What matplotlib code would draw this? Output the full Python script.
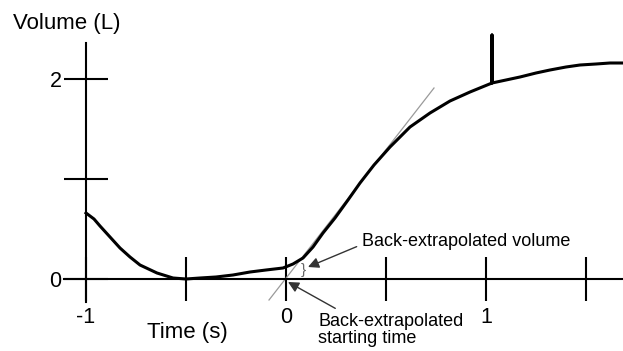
import matplotlib
matplotlib.use("Agg")
import matplotlib.pyplot as plt

# volume-time trace (s, L)
time = [-1.00, -0.96, -0.93, -0.88, -0.83, -0.78, -0.73, -0.645, -0.565, -0.50,
        -0.43, -0.35, -0.265, -0.18, -0.10, -0.015, 0.035, 0.085, 0.135, 0.185,
        0.245, 0.31, 0.37, 0.44, 0.52, 0.57, 0.62, 0.72, 0.82, 0.92,
        1.03, 1.03, 1.03, 1.10, 1.17, 1.25, 1.32, 1.40, 1.47, 1.55, 1.62, 1.685]
volume = [0.66, 0.60, 0.53, 0.42, 0.31, 0.22, 0.14, 0.06, 0.01, 0.00,
          0.01, 0.02, 0.04, 0.07, 0.09, 0.11, 0.15, 0.21, 0.32, 0.46,
          0.61, 0.79, 0.96, 1.14, 1.32, 1.42, 1.52, 1.66, 1.78, 1.87,
          1.96, 2.44, 1.96, 1.99, 2.02, 2.06, 2.09, 2.12, 2.14, 2.15, 2.16, 2.16]

# back-extrapolation line (steepest slope, through t=0)
ext_t = [-0.085, 0.74]
ext_v = [-0.21, 1.91]

xticks = [-1, -0.5, 0, 0.5, 1, 1.5]
xticklabels = ['-1', '', '0', '', '1', '']
yticks = [0, 1, 2]
yticklabels = ['0', '', '2']

plt.rcParams['font.family'] = ['Liberation Sans', 'DejaVu Sans']

fig = plt.figure(figsize=(6.23, 3.51), dpi=100)
ax = fig.add_axes([0, 0, 1, 1])
ax.set_xlim(-1.43, 1.685)
ax.set_ylim(-0.72, 2.79)

for s in ['top', 'right']:
    ax.spines[s].set_visible(False)
ax.spines['left'].set_position(('data', -1))
ax.spines['left'].set_bounds(-0.23, 2.36)
ax.spines['bottom'].set_position(('data', 0))
ax.spines['bottom'].set_bounds(-1.11, 1.685)
for s in ['left', 'bottom']:
    ax.spines[s].set_linewidth(1.5)
    ax.spines[s].set_color('black')

ax.set_xticks(xticks)
ax.set_xticklabels(xticklabels)
ax.set_yticks(yticks)
ax.set_yticklabels(yticklabels)
ax.tick_params(axis='x', direction='inout', length=32, width=1.5, labelsize=15.5, pad=4)
ax.tick_params(axis='y', direction='inout', length=31, width=1.5, labelsize=15.5, pad=2)

ax.plot(ext_t, ext_v, color='#9a9a9a', lw=0.9, zorder=2)
ax.plot(time, volume, color='black', lw=2.2, solid_joinstyle='round', zorder=3)

ax.text(-1.095, 2.55, 'Volume (L)', fontsize=16, ha='center', va='center')
ax.text(-0.495, -0.535, 'Time (s)', fontsize=16, ha='center', va='center')

# brace marking the back-extrapolated volume
ax.text(0.085, 0.09, '}', fontsize=11, color='#666666', ha='center', va='center')

arrow = dict(arrowstyle='-|>', color='#333333', lw=1, mutation_scale=16,
             shrinkA=2, shrinkB=0)
ax.annotate('Back-extrapolated volume', xy=(0.11, 0.12), xytext=(0.38, 0.38),
            fontsize=13, ha='left', va='center',
            arrowprops=dict(arrow, relpos=(0, 0.3)))
ax.annotate('Back-extrapolated\nstarting time', xy=(0.01, -0.03), xytext=(0.16, -0.335),
            fontsize=13, ha='left', va='top', linespacing=1.05,
            arrowprops=dict(arrow, relpos=(0.17, 1)))

fig.savefig('out.png', dpi=100)
